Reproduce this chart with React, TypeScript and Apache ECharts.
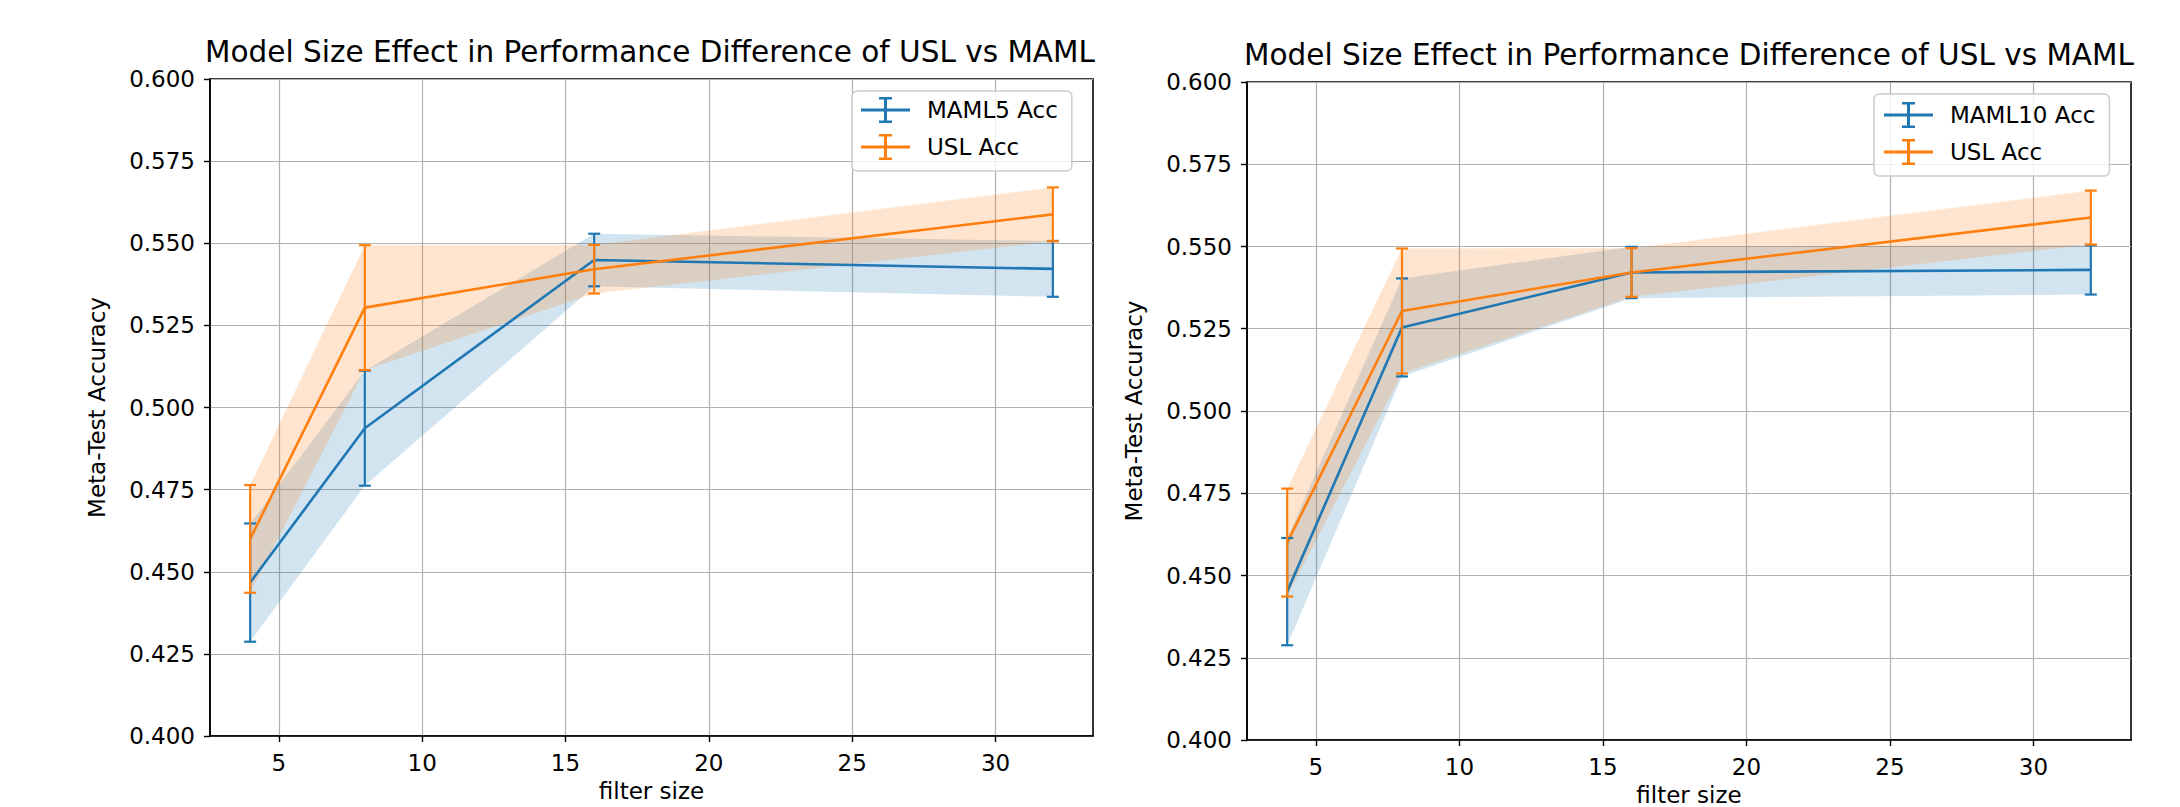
import React, { useEffect, useRef } from "react";
import * as echarts from "echarts";

// ---- data ----
const filterSizes = [4, 8, 16, 32];
const maml5Acc = [0.4467, 0.4937, 0.5449, 0.5422];
const maml5Err = [0.018, 0.0175, 0.008, 0.0085];
const maml10Acc = [0.4451, 0.5254, 0.5421, 0.5429];
const maml10Err = [0.0163, 0.0149, 0.0078, 0.0075];
const uslAcc = [0.46, 0.5304, 0.5421, 0.5588];
const uslErr = [0.0164, 0.019, 0.0074, 0.0082];
const xTickValues = [5, 10, 15, 20, 25, 30];
const titleText = "Model Size Effect in Performance Difference of USL vs MAML";
const xName = "filter size";
const yName = "Meta-Test Accuracy";

const FONT = "'DejaVu Sans', Verdana, sans-serif";
const BLUE = "#1f77b4";
const ORANGE = "#ff7f0e";
const BLUE_BAND = "rgba(31,119,180,0.2)";
const ORANGE_BAND = "rgba(255,127,14,0.2)";
const LEGEND_ICON =
  "path://M0,11.5 L49,11.5 L49,14.5 L0,14.5 Z M23,0 L26,0 L26,26 L23,26 Z M18,0 L31,0 L31,2.5 L18,2.5 Z M18,23.5 L31,23.5 L31,26 L18,26 Z";

const panels = [
  {
    mamlName: "MAML5 Acc",
    mamlMean: maml5Acc,
    mamlErr: maml5Err,
    grid: { left: 210, top: 79, width: 883, height: 657 },
    legend: { left: 852, top: 91, padding: [6, 14, 11, 9] },
    titleX: 650,
    titleTop: 37,
  },
  {
    mamlName: "MAML10 Acc",
    mamlMean: maml10Acc,
    mamlErr: maml10Err,
    grid: { left: 1247, top: 82, width: 884, height: 658 },
    legend: { left: 1874, top: 94, padding: [8, 14, 11, 10] },
    titleX: 1689,
    titleTop: 40,
  },
];

function errorBarSeries(name: string, idx: number, means: number[], errs: number[], color: string) {
  return {
    type: "custom",
    name,
    xAxisIndex: idx,
    yAxisIndex: idx,
    z: 5,
    encode: { x: 0, y: [1, 2] },
    data: filterSizes.map((x, i) => [x, means[i] - errs[i], means[i] + errs[i]]),
    renderItem: (params: any, api: any) => {
      const x = api.value(0);
      const top = api.coord([x, api.value(2)]);
      const bot = api.coord([x, api.value(1)]);
      const cap = 6;
      const style = { stroke: color, lineWidth: 2.2 };
      return {
        type: "group",
        children: [
          { type: "line", shape: { x1: top[0], y1: top[1], x2: bot[0], y2: bot[1] }, style },
          { type: "line", shape: { x1: top[0] - cap, y1: top[1], x2: top[0] + cap, y2: top[1] }, style },
          { type: "line", shape: { x1: bot[0] - cap, y1: bot[1], x2: bot[0] + cap, y2: bot[1] }, style },
        ],
      };
    },
  };
}

// filled band between mean-err and mean+err, drawn as one polygon through the axes' scales
function bandSeries(name: string, idx: number, means: number[], errs: number[], color: string) {
  const data = filterSizes.map((x, i) => [x, means[i] - errs[i], means[i] + errs[i]]);
  return {
    type: "custom",
    name,
    xAxisIndex: idx,
    yAxisIndex: idx,
    z: 1,
    silent: true,
    encode: { x: 0, y: [1, 2] },
    data,
    renderItem: (params: any, api: any) => {
      if (params.dataIndex !== 0) return null;
      const upper = data.map((d) => api.coord([d[0], d[2]]));
      const lower = data.map((d) => api.coord([d[0], d[1]])).reverse();
      return {
        type: "polygon",
        shape: { points: [...upper, ...lower] },
        style: { fill: color, stroke: "none" },
      };
    },
  };
}

function lineSeries(name: string, idx: number, means: number[], color: string) {
  return {
    type: "line",
    name,
    xAxisIndex: idx,
    yAxisIndex: idx,
    symbol: "none",
    z: 4,
    color,
    lineStyle: { color, width: 2.6 },
    data: filterSizes.map((x, i) => [x, means[i]]),
  };
}

export default function App() {
  const ref = useRef<HTMLDivElement>(null);
  useEffect(() => {
    document.body.style.margin = "0";
    if (!ref.current) return;
    const chart = echarts.init(ref.current, null, { renderer: "svg" });
    const labelStyle = { fontFamily: FONT, fontSize: 23, color: "#000" };
    const option: any = {
      animation: false,
      backgroundColor: "#fff",
      title: panels.map((p) => ({
        text: titleText,
        left: p.titleX,
        top: p.titleTop,
        textAlign: "center",
        padding: 0,
        textStyle: { fontFamily: FONT, fontSize: 29.5, fontWeight: "normal", color: "#000" },
      })),
      grid: panels.map((p) => ({
        ...p.grid,
        show: true,
        containLabel: false,
        outerBoundsMode: "none",
        borderColor: "#000",
        borderWidth: 1.6,
        backgroundColor: "transparent",
      })),
      legend: panels.map((p) => ({
        ...p.legend,
        orient: "vertical",
        data: [p.mamlName, "USL Acc"],
        icon: LEGEND_ICON,
        itemWidth: 49,
        itemHeight: 26,
        itemGap: 11,
        itemStyle: { borderWidth: 0 },
        backgroundColor: "rgba(255,255,255,0.8)",
        borderColor: "#cccccc",
        borderWidth: 1.5,
        borderRadius: 5,
        selectedMode: false,
        textStyle: { ...labelStyle, padding: [0, 0, 0, 12] },
      })),
      xAxis: panels.map((p, i) => ({
        type: "value",
        gridIndex: i,
        min: 2.6,
        max: 33.4,
        name: xName,
        nameLocation: "middle",
        nameGap: 43,
        nameTextStyle: labelStyle,
        axisLine: { show: true, onZero: false, lineStyle: { color: "#000", width: 1.6 } },
        axisTick: { show: true, length: 6, customValues: xTickValues, lineStyle: { color: "#000", width: 1.4 } },
        axisLabel: { ...labelStyle, margin: 15, customValues: xTickValues },
        splitLine: { show: true, lineStyle: { color: "#b0b0b0", width: 1.2 } },
      })),
      yAxis: panels.map((p, i) => ({
        type: "value",
        gridIndex: i,
        min: 0.4,
        max: 0.6,
        interval: 0.025,
        name: yName,
        nameLocation: "middle",
        nameGap: 102,
        nameTextStyle: labelStyle,
        axisLine: { show: true, onZero: false, lineStyle: { color: "#000", width: 1.6 } },
        axisTick: { show: true, length: 6, lineStyle: { color: "#000", width: 1.4 } },
        axisLabel: { ...labelStyle, margin: 15, formatter: (v: number) => v.toFixed(3) },
        splitLine: { show: true, lineStyle: { color: "#b0b0b0", width: 1.2 } },
      })),
      series: panels.flatMap((p, i) => [
        bandSeries(p.mamlName + " band", i, p.mamlMean, p.mamlErr, BLUE_BAND),
        bandSeries("USL Acc band", i, uslAcc, uslErr, ORANGE_BAND),
        lineSeries(p.mamlName, i, p.mamlMean, BLUE),
        lineSeries("USL Acc", i, uslAcc, ORANGE),
        errorBarSeries(p.mamlName + " err", i, p.mamlMean, p.mamlErr, BLUE),
        errorBarSeries("USL Acc err", i, uslAcc, uslErr, ORANGE),
      ]),
    };
    chart.setOption(option);
    return () => chart.dispose();
  }, []);
  return <div ref={ref} style={{ width: 2180, height: 807 }} />;
}
